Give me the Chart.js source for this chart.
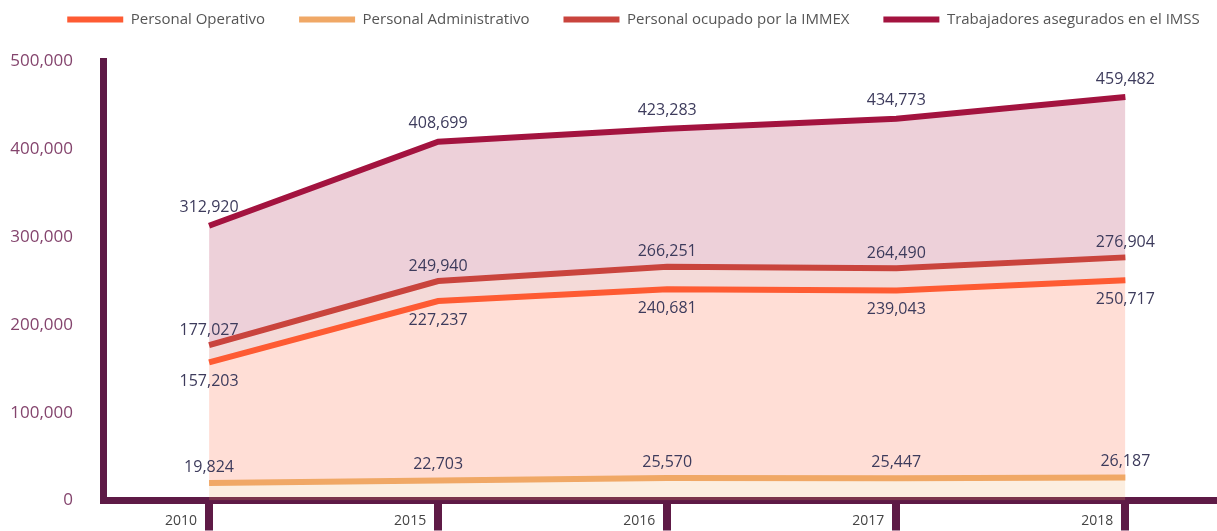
<!DOCTYPE html>
<html>
<head>
<meta charset="utf-8">
<script src="https://cdn.jsdelivr.net/npm/chart.js@4.4.1/dist/chart.umd.min.js"></script>
<style>
  html, body { margin: 0; padding: 0; background: #fff; }
  #wrap { width: 1217px; height: 531px; }
</style>
</head>
<body>
<div id="wrap"><canvas id="empleoChart"></canvas></div>
<script>
// Years on the x axis
const years = ['2010', '2015', '2016', '2017', '2018'];

// Series values (people)
const personalOperativo = [157203, 227237, 240681, 239043, 250717];
const personalAdministrativo = [19824, 22703, 25570, 25447, 26187];
const personalImmex = [177027, 249940, 266251, 264490, 276904];
const aseguradosImss = [312920, 408699, 423283, 434773, 459482];

// Y axis ticks
const yTicks = [0, 100000, 200000, 300000, 400000, 500000];

const plum = '#5e1a46';
const fmt = v => v.toLocaleString('en-US');
const toPoints = arr => arr.map((v, i) => ({ x: i, y: v }));

// draws the value next to every point
const valueLabels = {
    id: 'valueLabels',
    afterDatasetsDraw(chart) {
        const ctx = chart.ctx;
        ctx.save();
        ctx.font = '500 16px "Open Sans"';
        ctx.fillStyle = '#3d3b5c';
        ctx.textAlign = 'center';
        ctx.textBaseline = 'middle';
        chart.data.datasets.forEach((ds, i) => {
            chart.getDatasetMeta(i).data.forEach((pt, j) => {
                ctx.fillText(fmt(ds.data[j].y), pt.x, pt.y + ds.labelOffset);
            });
        });
        ctx.restore();
    }
};

// legend needs wide gaps between items but must sit near the top
const legendTweak = {
    id: 'legendTweak',
    beforeLayout(chart) {
        const lg = chart.legend;
        if (lg && !lg._patched) {
            const fit = lg.fit;
            const draw = lg.draw;
            lg.fit = function () { fit.call(this); this.height = 87.5; };
            lg.draw = function () {
                this.ctx.save();
                this.ctx.translate(25, 4);
                draw.call(this);
                this.ctx.restore();
            };
            lg._patched = true;
        }
    }
};

new Chart(document.getElementById('empleoChart'), {
    type: 'line',
    data: {
        datasets: [
            {
                label: 'Personal Operativo',
                data: toPoints(personalOperativo),
                borderColor: '#fe5b33',
                backgroundColor: 'rgba(254, 91, 51, 0.2)',
                fill: 1,
                labelOffset: 19
            },
            {
                label: 'Personal Administrativo',
                data: toPoints(personalAdministrativo),
                borderColor: '#f0a866',
                backgroundColor: 'rgba(240, 168, 102, 0.2)',
                fill: 'origin',
                labelOffset: -16
            },
            {
                label: 'Personal ocupado por la IMMEX',
                data: toPoints(personalImmex),
                borderColor: '#c9443d',
                backgroundColor: 'rgba(201, 68, 61, 0.2)',
                fill: 0,
                labelOffset: -15
            },
            {
                label: 'Trabajadores asegurados en el IMSS',
                data: toPoints(aseguradosImss),
                borderColor: '#a3133f',
                backgroundColor: 'rgba(163, 19, 63, 0.2)',
                fill: 2,
                labelOffset: -18
            }
        ]
    },
    options: {
        responsive: true,
        maintainAspectRatio: false,
        animation: false,
        layout: { padding: { top: -26, left: 0, right: 0, bottom: 0 } },
        elements: {
            line: { borderWidth: 6, tension: 0 },
            point: { radius: 0, hoverRadius: 0 }
        },
        scales: {
            x: {
                type: 'linear',
                min: -0.463,
                max: 4.40,
                afterFit: s => { s.height = 30.5; },
                border: { display: true, color: plum, width: 7 },
                grid: {
                    drawOnChartArea: false,
                    drawTicks: true,
                    tickLength: 30,
                    lineWidth: 8,
                    color: plum
                },
                ticks: {
                    stepSize: 1,
                    includeBounds: false,
                    align: 'end',
                    labelOffset: -12,
                    padding: -18,
                    color: '#444',
                    font: { family: '"Open Sans"', size: 14 },
                    callback: v => years[v]
                }
            },
            y: {
                min: yTicks[0],
                max: yTicks[yTicks.length - 1],
                afterFit: s => {
                    s.width = 103;
                    s.paddingTop = 0;
                    s.paddingBottom = 0;
                },
                border: { display: true, color: plum, width: 7 },
                grid: { display: false, drawTicks: false },
                ticks: {
                    stepSize: yTicks[1] - yTicks[0],
                    padding: 30,
                    color: '#84446d',
                    font: { family: '"Open Sans"', size: 17 },
                    callback: v => fmt(v)
                }
            }
        },
        plugins: {
            filler: { drawTime: 'beforeDatasetsDraw' },
            tooltip: { enabled: false },
            legend: {
                position: 'top',
                labels: {
                    boxWidth: 56,
                    boxHeight: 6,
                    padding: 34,
                    color: '#555',
                    font: { family: '"Open Sans"', size: 15 },
                    generateLabels: chart => chart.data.datasets.map((ds, i) => ({
                        text: ds.label,
                        fillStyle: ds.borderColor,
                        strokeStyle: ds.borderColor,
                        lineWidth: 0,
                        fontColor: '#555',
                        hidden: false,
                        datasetIndex: i
                    }))
                }
            }
        }
    },
    plugins: [valueLabels, legendTweak]
});
</script>
</body>
</html>
